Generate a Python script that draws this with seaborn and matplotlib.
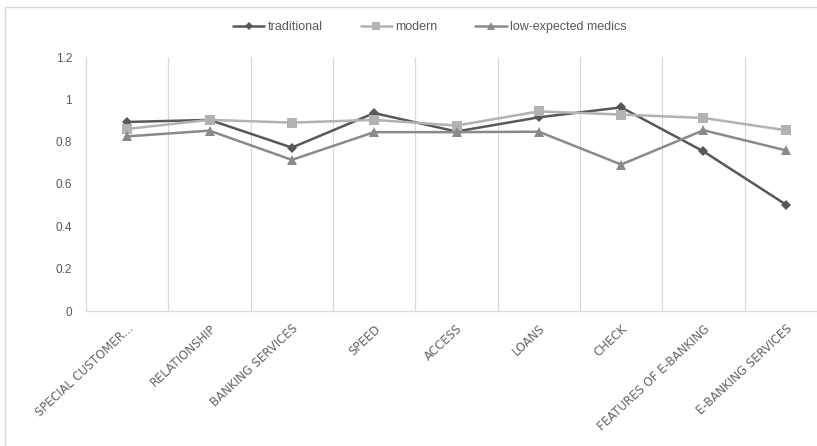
import matplotlib
matplotlib.use("Agg")
import matplotlib.pyplot as plt
from matplotlib.lines import Line2D
import seaborn as sns
import pandas as pd

categories = ["SPECIAL CUSTOMER...", "RELATIONSHIP", "BANKING SERVICES", "SPEED",
              "ACCESS", "LOANS", "CHECK", "FEATURES OF E-BANKING", "E-BANKING SERVICES"]
series_names = ["traditional", "modern", "low-expected medics"]
traditional = [0.893, 0.903, 0.772, 0.935, 0.848, 0.915, 0.962, 0.754, 0.503]
modern = [0.860, 0.903, 0.890, 0.903, 0.876, 0.943, 0.928, 0.912, 0.854]
low_expected = [0.825, 0.852, 0.714, 0.845, 0.845, 0.847, 0.692, 0.854, 0.759]
y_ticks = [0, 0.2, 0.4, 0.6, 0.8, 1.0, 1.2]
y_tick_labels = ["0", "0.2", "0.4", "0.6", "0.8", "1", "1.2"]

rows = []
for name, vals in zip(series_names, [traditional, modern, low_expected]):
    for i, (c, v) in enumerate(zip(categories, vals)):
        rows.append({"pos": i, "category": c, "value": v, "series": name})
df = pd.DataFrame(rows)

sns.set_theme(style="white")
plt.rcParams['font.family'] = ['Liberation Sans', 'DejaVu Sans']

W, H = 817, 446
fig = plt.figure(figsize=(W / 100, H / 100), dpi=100)
ax = fig.add_axes([86 / W, 1 - 311 / H, (827 - 86) / W, (311 - 57) / H])

palette = {"traditional": "#585858", "modern": "#b2b2b2", "low-expected medics": "#8a8a8a"}
markers = {"traditional": "D", "modern": "s", "low-expected medics": "^"}
sizes_m = {"traditional": 5, "modern": 6.5, "low-expected medics": 7.5}

sns.lineplot(data=df, x="pos", y="value", hue="series", style="series",
             hue_order=series_names, style_order=series_names,
             palette=palette, markers=markers, dashes=False, linewidth=1.8,
             markeredgewidth=0, ax=ax, legend=False, sort=False)
for line, name in zip(ax.get_lines(), series_names):
    line.set_markersize(sizes_m[name])

ax.set_xlim(-0.5, 8.5)
ax.set_ylim(0, 1.2)
ax.set_yticks(y_ticks)
ax.set_yticklabels(y_tick_labels)
ax.set_xticks(range(len(categories)))
ax.set_xticklabels(categories, rotation=43, ha="right", rotation_mode="anchor",
                   family=['DejaVu Sans'], fontsize=8.5)
ax.tick_params(axis="y", length=0, pad=10, labelsize=8.5, labelcolor="#595959")
ax.tick_params(axis="x", length=0, pad=8, labelcolor="#656565")
ax.set_xlabel("")
ax.set_ylabel("")
for b in [x + 0.5 for x in range(len(categories))]:
    ax.axvline(b, color="#d9d9d9", lw=0.9, zorder=0)
for s in ["top", "right"]:
    ax.spines[s].set_visible(False)
for s in ["left", "bottom"]:
    ax.spines[s].set_color("#d9d9d9")
    ax.spines[s].set_linewidth(0.9)

# legend
handles = [Line2D([0], [0], color=palette[n], marker=markers[n], lw=1.8,
                  markersize=sizes_m[n] * 0.8, markeredgewidth=0) for n in series_names]
fig.legend(handles, series_names, loc="center", bbox_to_anchor=(430 / W, 1 - 27 / H),
           ncol=3, frameon=False, fontsize=9, handlelength=2.5, columnspacing=3.0,
           handletextpad=0.3, labelcolor="#595959")

# outer chart frame (left and top visible)
fig.add_artist(Line2D([5 / W, 5 / W], [0, 1 - 7 / H], transform=fig.transFigure, color="#d9d9d9", lw=1))
fig.add_artist(Line2D([5 / W, 1], [1 - 7 / H, 1 - 7 / H], transform=fig.transFigure, color="#d9d9d9", lw=1))

fig.savefig("out.png", dpi=100)
